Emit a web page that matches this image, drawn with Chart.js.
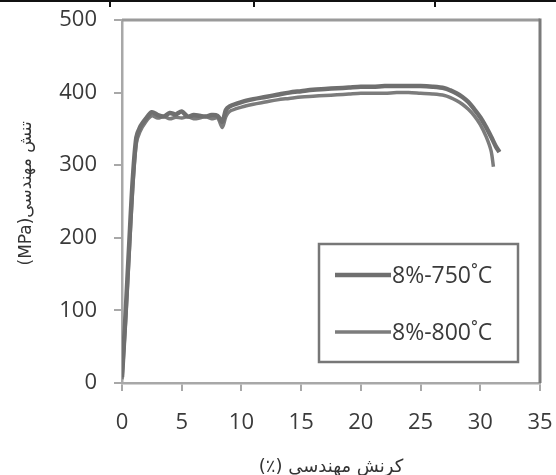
<!DOCTYPE html>
<html><head><meta charset="utf-8">
<script src="https://cdn.jsdelivr.net/npm/chart.js@4/dist/chart.umd.min.js"></script>
<style>
html,body{margin:0;padding:0;background:#fff;}
#wrap{position:relative;width:556px;height:475px;overflow:hidden;}
canvas{position:absolute;left:0;top:0;}
#topline{position:absolute;left:0;top:0;width:556px;height:2px;background:#111;}
.vt{position:absolute;top:0;width:2px;height:7px;background:#111;}
</style></head><body>
<div id="wrap">
<canvas id="c" width="556" height="475"></canvas>
<div id="topline"></div>
<div class="vt" style="left:109px"></div>
<div class="vt" style="left:253px"></div>
<div class="vt" style="left:434px"></div>
</div>
<script>
const seriesLabels = ['8%-750˚C', '8%-800˚C'];
const strain750 = [0, 0.3, 0.6, 0.9, 1.2, 1.5, 2.0, 2.5, 3.0, 3.5, 4.0, 4.5, 5.0, 5.5, 6.0, 6.5, 7.0, 7.5, 8.0, 8.4, 8.7, 9.0, 10, 11, 12, 13, 14, 15, 16, 17, 18, 19, 20, 21, 22, 23, 24, 25, 26, 27, 27.5, 28, 28.5, 29, 29.5, 30, 30.5, 31, 31.3, 31.6];
const stress750 = [8, 95, 190, 280, 338, 352, 364, 373, 369, 367, 372, 370, 374, 367, 369, 368, 367, 369, 368, 360, 376, 381, 387, 391, 394, 397, 400, 402, 404, 405, 406, 407, 408, 408, 409, 409, 409, 409, 408, 406, 403, 399, 394, 387, 377, 366, 352, 336, 326, 318];
const strain800 = [0, 0.3, 0.6, 0.9, 1.2, 1.5, 2.0, 2.5, 3.0, 3.5, 4.0, 4.5, 5.0, 5.5, 6.0, 6.5, 7.0, 7.5, 8.0, 8.4, 8.7, 9.0, 10, 11, 12, 13, 14, 15, 16, 17, 18, 19, 20, 21, 22, 23, 24, 25, 26, 27, 27.5, 28, 28.5, 29, 29.5, 30, 30.5, 30.9, 31.1];
const stress800 = [5, 85, 178, 268, 330, 346, 360, 368, 365, 367, 364, 366, 365, 367, 364, 365, 367, 364, 365, 352, 367, 374, 380, 384, 387, 390, 392, 394, 395, 396, 397, 398, 399, 399, 399, 400, 400, 399, 398, 396, 393, 389, 384, 377, 368, 356, 339, 320, 298];
const xTicks = [0, 5, 10, 15, 20, 25, 30, 35];
const yTicks = [0, 100, 200, 300, 400, 500];
const xTitle = '(٪) کرنش مهندسی';
const yTitle = '   (MPa)تنش مهندسی';

const toPts = (xs, ys) => xs.map((x, i) => ({x: x, y: ys[i]}));

const frame = {
  id: 'frame',
  afterDatasetsDraw(chart) {
    const {ctx, chartArea: a} = chart;
    ctx.save();
    ctx.strokeStyle = '#9a9a9a';
    ctx.lineWidth = 3;
    ctx.beginPath(); ctx.moveTo(a.left, a.top); ctx.lineTo(a.right, a.top); ctx.stroke();
    ctx.strokeStyle = '#7a7a7a';
    ctx.beginPath(); ctx.moveTo(a.right, a.top - 1.5); ctx.lineTo(a.right, a.bottom); ctx.stroke();
    // legend box
    const bw = 199, bh = 118;
    const bx = a.right - 22 - bw, by = a.bottom - 21 - bh;
    ctx.fillStyle = '#fff';
    ctx.fillRect(bx, by, bw, bh);
    ctx.strokeStyle = '#777';
    ctx.lineWidth = 2.5;
    ctx.strokeRect(bx, by, bw, bh);
    const rows = [31, 88];
    chart.data.datasets.forEach((ds, i) => {
      const yy = by + rows[i];
      ctx.strokeStyle = ds.borderColor;
      ctx.lineWidth = ds.borderWidth;
      ctx.beginPath(); ctx.moveTo(bx + 16, yy); ctx.lineTo(bx + 72, yy); ctx.stroke();
      ctx.fillStyle = '#3a3a3a';
      ctx.font = '23px "Open Sans"';
      ctx.textBaseline = 'middle';
      ctx.textAlign = 'left';
      ctx.fillText(ds.label, bx + 73, yy + 1);
    });
    ctx.restore();
  }
};

new Chart(document.getElementById('c'), {
  type: 'scatter',
  data: {
    datasets: [
      {label: seriesLabels[0], data: toPts(strain750, stress750), showLine: true, borderColor: '#6f6f6f', borderWidth: 4.5, pointRadius: 0, tension: 0.3, fill: false},
      {label: seriesLabels[1], data: toPts(strain800, stress800), showLine: true, borderColor: '#7c7c7c', borderWidth: 3.5, pointRadius: 0, tension: 0.3, fill: false}
    ]
  },
  options: {
    responsive: false,
    animation: false,
    layout: {padding: 0},
    plugins: {legend: {display: false}, tooltip: {enabled: false}},
    scales: {
      x: {
        type: 'linear', min: 0, max: 35,
        afterBuildTicks: s => { s.ticks = xTicks.map(v => ({value: v})); },
        afterFit: s => { s.height = 92; s.paddingLeft = 0; s.paddingRight = 16; },
        grid: {drawOnChartArea: false, drawTicks: true, tickLength: 8, color: '#a8a8a8', lineWidth: 2},
        border: {display: true, color: '#a8a8a8', width: 2.5},
        ticks: {color: '#3a3a3a', font: {family: 'Open Sans', size: 22}, padding: 19, maxRotation: 0},
        title: {display: true, text: xTitle, color: '#333', font: {family: 'DejaVu Sans', size: 18}, padding: {top: 0, bottom: -3}}
      },
      y: {
        type: 'linear', min: 0, max: 500,
        afterBuildTicks: s => { s.ticks = yTicks.map(v => ({value: v})); },
        afterFit: s => { s.width = 122; s.paddingTop = 20; s.paddingBottom = 0; },
        grid: {drawOnChartArea: false, drawTicks: true, tickLength: 8, color: '#a8a8a8', lineWidth: 2},
        border: {display: true, color: '#a8a8a8', width: 2.5},
        ticks: {color: '#3a3a3a', font: {family: 'Open Sans', size: 22}, padding: 17},
        title: {display: true, text: yTitle, color: '#333', font: {family: 'DejaVu Sans', size: 17}, padding: {top: 16, bottom: 0}}
      }
    }
  },
  plugins: [frame]
});
</script>
</body></html>
